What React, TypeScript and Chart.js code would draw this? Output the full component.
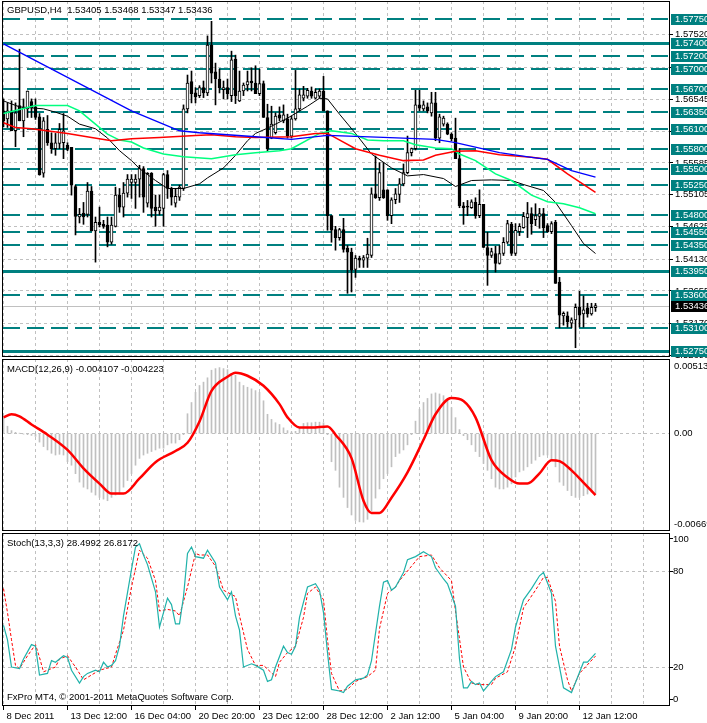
import React, { useEffect, useRef } from 'react';
import { Chart, registerables } from 'chart.js';

Chart.register(...registerables);

// ---------- DATA (GBPUSD H4) ----------
const dateLabels = ['8 Dec 2011', '13 Dec 12:00', '16 Dec 04:00', '20 Dec 20:00', '23 Dec 12:00', '28 Dec 12:00', '2 Jan 12:00', '5 Jan 04:00', '9 Jan 20:00', '12 Jan 12:00'];

const opens = [1.5637,1.5625,1.5637,1.5607,1.5645,1.5622,1.5640,1.5651,1.5643,1.5628,1.5543,1.5609,1.5589,1.5580,1.5588,1.5589,1.5585,1.5582,1.5523,1.5477,1.5483,1.5481,1.5516,1.5456,1.5469,1.5466,1.5465,1.5439,1.5463,1.5510,1.5492,1.5513,1.5529,1.5529,1.5534,1.5550,1.5498,1.5543,1.5492,1.5486,1.5490,1.5541,1.5520,1.5498,1.5507,1.5520,1.5640,1.5681,1.5664,1.5660,1.5672,1.5664,1.5736,1.5696,1.5685,1.5669,1.5672,1.5660,1.5715,1.5652,1.5667,1.5676,1.5682,1.5679,1.5663,1.5678,1.5627,1.5596,1.5604,1.5631,1.5622,1.5625,1.5599,1.5625,1.5640,1.5656,1.5659,1.5667,1.5656,1.5659,1.5667,1.5637,1.5479,1.5458,1.5446,1.5458,1.5430,1.5424,1.5398,1.5415,1.5412,1.5415,1.5419,1.5512,1.5506,1.5518,1.5518,1.5479,1.5503,1.5511,1.5527,1.5544,1.5574,1.5580,1.5646,1.5640,1.5643,1.5634,1.5649,1.5596,1.5617,1.5617,1.5602,1.5596,1.5565,1.5494,1.5493,1.5491,1.5499,1.5479,1.5496,1.5431,1.5419,1.5422,1.5407,1.5422,1.5439,1.5466,1.5422,1.5455,1.5461,1.5476,1.5482,1.5473,1.5478,1.5482,1.5464,1.5455,1.5469,1.5379,1.5328,1.5328,1.5317,1.5322,1.5341,1.5331,1.5340,1.5331,1.53405];
const highs = [1.5655,1.5649,1.5652,1.5649,1.5730,1.5655,1.5667,1.5655,1.5655,1.5633,1.5627,1.5630,1.5604,1.5603,1.5618,1.5633,1.5589,1.5582,1.5525,1.5490,1.5499,1.5529,1.5523,1.5477,1.5492,1.5472,1.5477,1.5477,1.5522,1.5520,1.5529,1.5541,1.5541,1.5541,1.5555,1.5553,1.5544,1.5544,1.5510,1.5510,1.5543,1.5547,1.5522,1.5520,1.5525,1.5646,1.5691,1.5697,1.5672,1.5675,1.5682,1.5750,1.5772,1.5709,1.5700,1.5682,1.5685,1.5727,1.5721,1.5697,1.5679,1.5697,1.5702,1.5705,1.5700,1.5682,1.5647,1.5644,1.5634,1.5643,1.5646,1.5632,1.5629,1.5698,1.5670,1.5674,1.5671,1.5673,1.5670,1.5670,1.5689,1.5637,1.5479,1.5463,1.5460,1.5475,1.5434,1.5430,1.5419,1.5418,1.5419,1.5445,1.5521,1.5569,1.5559,1.5559,1.5518,1.5506,1.5520,1.5535,1.5557,1.5599,1.5581,1.5668,1.5668,1.5652,1.5649,1.5665,1.5665,1.5632,1.5629,1.5619,1.5604,1.5626,1.5580,1.5499,1.5502,1.5503,1.5506,1.5518,1.5496,1.5454,1.5430,1.5433,1.5434,1.5446,1.5472,1.5469,1.5467,1.5467,1.5484,1.5499,1.5491,1.5497,1.5490,1.5490,1.5467,1.5470,1.5472,1.5386,1.5334,1.5334,1.5325,1.5346,1.5365,1.5358,1.5347,1.5347,1.53468];
const lows = [1.5613,1.5612,1.5607,1.5583,1.5622,1.5598,1.5627,1.5627,1.5624,1.5540,1.5537,1.5585,1.5573,1.5570,1.5580,1.5565,1.5577,1.5510,1.5450,1.5468,1.5466,1.5477,1.5456,1.5409,1.5462,1.5460,1.5432,1.5436,1.5462,1.5484,1.5477,1.5507,1.5505,1.5490,1.5507,1.5484,1.5492,1.5477,1.5463,1.5480,1.5463,1.5505,1.5495,1.5492,1.5502,1.5517,1.5634,1.5649,1.5649,1.5657,1.5657,1.5660,1.5679,1.5646,1.5664,1.5655,1.5655,1.5651,1.5648,1.5651,1.5660,1.5667,1.5667,1.5663,1.5660,1.5627,1.5577,1.5595,1.5602,1.5622,1.5619,1.5596,1.5596,1.5623,1.5637,1.5652,1.5656,1.5656,1.5655,1.5656,1.5637,1.5457,1.5439,1.5427,1.5442,1.5424,1.5362,1.5364,1.5386,1.5401,1.5401,1.5401,1.5416,1.5505,1.5502,1.5505,1.5472,1.5467,1.5497,1.5499,1.5524,1.5542,1.5569,1.5578,1.5637,1.5637,1.5634,1.5629,1.5592,1.5589,1.5614,1.5601,1.5592,1.5565,1.5491,1.5466,1.5479,1.5490,1.5475,1.5476,1.5431,1.5374,1.5416,1.5394,1.5406,1.5419,1.5437,1.5419,1.5419,1.5449,1.5460,1.5446,1.5451,1.5464,1.5460,1.5446,1.5454,1.5452,1.5377,1.5310,1.5314,1.5311,1.5310,1.5280,1.5311,1.5311,1.5326,1.5329,1.53347];
const closes = [1.5622,1.5637,1.5607,1.5634,1.5622,1.5642,1.5667,1.5642,1.5627,1.5541,1.5622,1.5589,1.5580,1.5589,1.5609,1.5607,1.5579,1.5525,1.5478,1.5481,1.5477,1.5516,1.5456,1.5469,1.5465,1.5463,1.5439,1.5465,1.5510,1.5492,1.5513,1.5534,1.5534,1.5534,1.5550,1.5507,1.5543,1.5490,1.5486,1.5492,1.5541,1.5520,1.5507,1.5508,1.5522,1.5640,1.5679,1.5663,1.5658,1.5672,1.5664,1.5736,1.5694,1.5685,1.5672,1.5672,1.5663,1.5714,1.5660,1.5667,1.5676,1.5681,1.5679,1.5663,1.5678,1.5627,1.5580,1.5617,1.5629,1.5626,1.5631,1.5599,1.5625,1.5640,1.5661,1.5661,1.5668,1.5659,1.5665,1.5667,1.5637,1.5479,1.5457,1.5446,1.5458,1.5428,1.5424,1.5397,1.5415,1.5412,1.5416,1.5421,1.5512,1.5506,1.5544,1.5506,1.5479,1.5503,1.5512,1.5527,1.5544,1.5574,1.5580,1.5646,1.5641,1.5646,1.5637,1.5649,1.5596,1.5628,1.5626,1.5602,1.5595,1.5565,1.5494,1.5491,1.5492,1.5500,1.5479,1.5496,1.5431,1.5419,1.5425,1.5407,1.5422,1.5439,1.5467,1.5422,1.5457,1.5463,1.5478,1.5482,1.5467,1.5479,1.5482,1.5461,1.5455,1.5467,1.5377,1.5329,1.5332,1.5319,1.5322,1.5341,1.5329,1.5337,1.5331,1.5341,1.53436];

// horizontal support / resistance levels
const levelDashed = [1.5775, 1.5720, 1.5700, 1.5670, 1.5635, 1.5610, 1.5580, 1.5550, 1.5525, 1.5480, 1.5455, 1.5435, 1.5360, 1.5310];
const levelSolid = [1.5740, 1.5395, 1.5275];
// price grid / axis ticks
const priceTicks = [1.5752, 1.5703, 1.56545, 1.5606, 1.55585, 1.55105, 1.54625, 1.5413, 1.53655, 1.5317, 1.5269];

// moving averages: [bar index, price]
const maBlue = [[0,1.5738],[32,1.5637],[44,1.5607],[49,1.5604],[63,1.5598],[72,1.5594],[81,1.5600],[95,1.5597],[108,1.5594],[113,1.5589],[124,1.5574],[132,1.5567],[136,1.5564],[142,1.5547],[148,1.5537]];
const maRed = [[0,1.5619],[3,1.5612],[7,1.5610],[16,1.5603],[22,1.5597],[27,1.5592],[32,1.5595],[39,1.5597],[48,1.5600],[52,1.5601],[58,1.5598],[63,1.5597],[72,1.5598],[78,1.5603],[81,1.5603],[88,1.5580],[94,1.5570],[100,1.5562],[105,1.5563],[108,1.5570],[113,1.5576],[118,1.5577],[124,1.5571],[132,1.5567],[136,1.5564],[141,1.5542],[148,1.5514]];
const maGreen = [[0,1.5633],[8,1.5645],[16,1.5645],[19,1.5637],[22,1.5622],[26,1.5602],[29,1.5593],[32,1.5590],[35,1.5581],[40,1.5572],[45,1.5568],[52,1.5565],[58,1.5571],[63,1.5574],[69,1.5577],[72,1.5580],[79,1.5603],[82,1.5607],[87,1.5603],[91,1.5593],[95,1.5592],[100,1.5592],[103,1.5586],[108,1.5581],[112,1.5580],[114,1.5572],[118,1.5562],[123,1.5542],[127,1.5532],[132,1.5510],[136,1.5500],[140,1.5497],[144,1.5491],[148,1.5482]];
const maBlack = [[0,1.5652],[4,1.5643],[10,1.5640],[13,1.5635],[16,1.5629],[19,1.5617],[23,1.5610],[26,1.5596],[29,1.5577],[32,1.5562],[34,1.5550],[38,1.5532],[41,1.5520],[45,1.5520],[49,1.5527],[51,1.5536],[55,1.5551],[58,1.5570],[61,1.5592],[63,1.5603],[66,1.5611],[71,1.5626],[76,1.5644],[79,1.5656],[81,1.5655],[84,1.5632],[88,1.5603],[92,1.5572],[97,1.5551],[101,1.5539],[105,1.5541],[110,1.5535],[113,1.5523],[117,1.5532],[122,1.5533],[127,1.5532],[130,1.5526],[135,1.5517],[138,1.5499],[142,1.5464],[145,1.5437],[148,1.5422]];

// MACD(12,26,9)
const macdHist = [0.0011,0.00051,0.00021,0.00009,0.00002,-0.00002,-0.00007,-0.00012,-0.00019,-0.00058,-0.00089,-0.00112,-0.00135,-0.00147,-0.00142,-0.00147,-0.00193,-0.00217,-0.00275,-0.00333,-0.00368,-0.0038,-0.00403,-0.00422,-0.00438,-0.0045,-0.00461,-0.00438,-0.00422,-0.00415,-0.00368,-0.00322,-0.00275,-0.00217,-0.0017,-0.00147,-0.00135,-0.00123,-0.00112,-0.001,-0.001,-0.00077,-0.00065,-0.00065,-0.00042,-0.00007,0.00137,0.00214,0.00284,0.00331,0.00354,0.00384,0.00436,0.00447,0.00454,0.00447,0.0044,0.00412,0.00401,0.00354,0.00331,0.00319,0.00308,0.00296,0.00284,0.00226,0.00133,0.00098,0.00075,0.00063,0.0004,0.00021,0.00012,0.00016,0.0004,0.0007,0.00075,0.00075,0.00079,0.00079,0.00075,-0.00007,-0.00193,-0.00252,-0.00368,-0.00438,-0.00508,-0.00559,-0.00596,-0.00606,-0.00608,-0.00589,-0.00531,-0.00443,-0.0038,-0.0031,-0.00275,-0.00228,-0.00158,-0.00135,-0.00112,-0.00077,-0.00007,0.00086,0.00168,0.00214,0.00242,0.00273,0.0028,0.00273,0.00261,0.00226,0.00179,0.0011,0.00028,-0.00014,-0.00042,-0.00077,-0.00123,-0.00158,-0.00205,-0.00252,-0.0031,-0.00368,-0.0038,-0.0038,-0.00368,-0.00345,-0.00298,-0.00263,-0.00252,-0.00228,-0.00205,-0.00182,-0.00158,-0.00147,-0.00147,-0.00182,-0.00228,-0.00333,-0.00356,-0.00391,-0.00426,-0.00438,-0.00438,-0.00426,-0.00415,-0.00403,-0.004107];
const macdSignal = [[0,0.00112],[2,0.00133],[4,0.00119],[7,0.00063],[11,-0.00007],[16,-0.00112],[20,-0.00238],[24,-0.00343],[27,-0.00412],[30,-0.00412],[34,-0.00308],[38,-0.00196],[43,-0.00119],[46,-0.00063],[49,0.00084],[52,0.00294],[56,0.00391],[58,0.00419],[61,0.00398],[65,0.00329],[69,0.00203],[71,0.00112],[74,0.00042],[77,0.00042],[81,0.00049],[83,-0.00007],[87,-0.00168],[90,-0.00461],[92,-0.00545],[94,-0.00545],[97,-0.0044],[101,-0.00266],[105,-0.00042],[108,0.00133],[112,0.00245],[115,0.00224],[118,0.00112],[122,-0.00182],[126,-0.00301],[129,-0.00343],[131,-0.00343],[134,-0.00273],[137,-0.00182],[139,-0.00189],[142,-0.00252],[145,-0.00336],[148,-0.004223]];
const macdAxis = [0.00513, 0, -0.00669];

// Stochastic(13,3,3)
const stochK = [[0,46],[1,37],[2,20],[4,19],[5,25],[7,34],[8,33],[9,15],[11,16],[12,24],[13,23],[15,27],[16,26],[17,18],[19,10],[20,14],[21,16],[23,18],[24,17],[25,23],[26,20],[27,21],[28,24],[29,33],[30,52],[32,81],[33,95],[34,97],[35,90],[36,84],[38,67],[39,45],[40,54],[41,63],[42,59],[43,47],[44,47],[45,64],[46,91],[47,95],[48,89],[50,88],[51,93],[53,85],[54,70],[56,62],[57,67],[58,52],[59,43],[60,20],[62,22],[63,21],[65,18],[66,11],[67,12],[68,20],[70,33],[71,29],[72,28],[73,33],[74,51],[76,70],[78,72],[79,68],[80,54],[81,29],[82,6],[84,5],[85,4],[86,8],[88,12],[90,13],[91,15],[92,24],[94,58],[95,73],[96,74],[97,68],[98,70],[100,79],[101,87],[103,89],[105,92],[107,89],[108,82],[110,75],[111,72],[113,58],[114,25],[115,7],[116,7],[117,11],[118,9],[119,10],[120,5],[122,11],[123,14],[125,17],[127,31],[128,45],[130,62],[132,69],[134,77],[135,79],[137,66],[138,33],[140,7],[142,4],[145,23],[146,23],[148,28.4992]];
const stochD = [[0,69],[1,54],[2,37],[3,21],[4,19],[6,27],[8,34],[9,26],[10,17],[13,20],[14,25],[16,27],[18,20],[20,12],[22,15],[24,18],[27,20],[28,28],[30,43],[32,70],[34,93],[36,88],[38,74],[39,55],[41,56],[43,55],[44,52],[46,70],[48,91],[49,90],[51,90],[53,83],[55,68],[58,64],[59,52],[61,31],[63,21],[65,21],[68,14],[69,23],[71,29],[73,33],[75,51],[76,66],[78,70],[80,62],[81,37],[82,16],[84,5],[86,6],[88,11],[91,14],[93,18],[94,44],[96,66],[98,70],[99,74],[102,83],[104,89],[107,90],[109,82],[112,74],[113,55],[115,20],[117,10],[119,9],[122,9],[123,13],[126,17],[128,33],[130,57],[133,68],[135,76],[136,76],[138,61],[139,33],[141,12],[142,5],[144,16],[148,26.8172]];
const stochTicks = [0, 20, 80, 100];

// ---------- STYLE / LAYOUT ----------
const FONT_FAMILY = "'Liberation Sans', Arial, sans-serif";
const FONT_SIZE = 9.5;
const FONT = `${FONT_SIZE}px ${FONT_FAMILY}`;
const TEAL = '#008080';
const GRID = '#c0c0c0';
const X_MIN = -0.375;
const X_MAX = 166.625;
const AXIS_W = 37;
const CLEAR = 'rgba(0,0,0,0)';

Chart.defaults.font.family = FONT_FAMILY;
Chart.defaults.font.size = FONT_SIZE;
Chart.defaults.color = '#000';

const gridIdx: number[] = [];
for (let v = 0; v <= 160; v += 8) gridIdx.push(v);

function noPad(s: any) {
  s.paddingTop = 0; s.paddingBottom = 0; s.paddingLeft = 0; s.paddingRight = 0;
}

function xScale(showLabels: boolean): any {
  return {
    type: 'linear',
    min: X_MIN,
    max: X_MAX,
    offset: false,
    afterBuildTicks: (s: any) => { s.ticks = gridIdx.map((v) => ({ value: v })); },
    afterFit: (s: any) => { s.height = showLabels ? 17 : 0; noPad(s); },
    grid: {
      color: GRID, lineWidth: 1, offset: false, drawOnChartArea: true,
      drawTicks: showLabels, tickLength: 4, tickWidth: 1,
      tickColor: (c: any) => (c.tick && c.tick.value % 16 === 0 && c.tick.value / 16 < dateLabels.length ? '#000' : CLEAR),
    },
    border: { display: false, dash: [3, 3] },
    ticks: {
      display: showLabels, autoSkip: false, maxRotation: 0, minRotation: 0,
      align: 'start', labelOffset: 3, padding: 1, color: '#000',
      font: { family: FONT_FAMILY, size: FONT_SIZE },
      callback: (v: number) => (v % 16 === 0 && dateLabels[v / 16] ? dateLabels[v / 16] : ''),
    },
  };
}

function lineDs(pts: number[][], color: string, width: number, extra: any = {}): any {
  return {
    type: 'line',
    data: pts.map(([x, y]) => ({ x, y })),
    borderColor: color,
    borderWidth: width,
    pointRadius: 0,
    fill: false,
    tension: 0,
    ...extra,
  };
}

function drawFrame(chart: any) {
  const { ctx, chartArea: a } = chart;
  ctx.save();
  ctx.strokeStyle = '#000';
  ctx.lineWidth = 1;
  ctx.setLineDash([]);
  ctx.strokeRect(a.left + 0.5, a.top + 0.5, a.right - a.left - 1, a.bottom - a.top - 1);
  ctx.restore();
}

function drawText(ctx: any, s: string, x: number, y: number, color = '#000') {
  ctx.font = FONT;
  ctx.textBaseline = 'middle';
  ctx.textAlign = 'left';
  ctx.fillStyle = color;
  ctx.fillText(s, x, y);
}

const baseOptions = (padding: any) => ({
  responsive: false,
  animation: false,
  devicePixelRatio: 1,
  events: [],
  layout: { padding },
  plugins: { legend: { display: false }, tooltip: { enabled: false } },
});

function mainConfig(): any {
  const n = closes.length;
  const last = closes[n - 1];
  const bodies = opens.map((o, i) => ({ x: i, y: [o, closes[i]] }));
  const wicks = highs.map((h, i) => ({ x: i, y: [lows[i], h] }));
  const bodyColors = opens.map((o, i) => (closes[i] >= o ? '#ffffff' : '#000000'));

  const deco = {
    id: 'mainDeco',
    beforeDatasetsDraw(chart: any) {
      const { ctx, chartArea: a, scales } = chart;
      const y = scales.y;
      ctx.save();
      ctx.beginPath();
      ctx.rect(a.left, a.top, a.right - a.left, a.bottom - a.top);
      ctx.clip();
      const py0 = Math.round(y.getPixelForValue(last)) + 0.5;
      ctx.strokeStyle = GRID;
      ctx.lineWidth = 1;
      ctx.beginPath(); ctx.moveTo(a.left, py0); ctx.lineTo(a.right, py0); ctx.stroke();
      ctx.strokeStyle = TEAL;
      ctx.lineWidth = 2;
      ctx.setLineDash([17, 7]);
      for (const v of levelDashed) {
        const py = Math.round(y.getPixelForValue(v));
        ctx.beginPath(); ctx.moveTo(a.left + 1, py); ctx.lineTo(a.right, py); ctx.stroke();
      }
      ctx.setLineDash([]);
      ctx.lineWidth = 3;
      for (const v of levelSolid) {
        const py = Math.round(y.getPixelForValue(v)) + 0.5;
        ctx.beginPath(); ctx.moveTo(a.left, py); ctx.lineTo(a.right, py); ctx.stroke();
      }
      ctx.restore();
    },
    afterDraw(chart: any) {
      drawFrame(chart);
      const { ctx, chartArea: a, scales } = chart;
      const y = scales.y;
      ctx.save();
      const boxes = [...levelDashed, ...levelSolid].map((v) => ({ v, bg: TEAL }));
      boxes.push({ v: last, bg: '#000' });
      for (const b of boxes) {
        const py = Math.round(y.getPixelForValue(b.v));
        ctx.fillStyle = b.bg;
        ctx.fillRect(a.right + 1, py - 5, chart.width - a.right - 1, 11);
        drawText(ctx, b.v.toFixed(5), a.right + 5, py + 0.5, '#fff');
      }
      const title = `GBPUSD,H4  ${opens[n - 1].toFixed(5)} ${highs[n - 1].toFixed(5)} ${lows[n - 1].toFixed(5)} ${closes[n - 1].toFixed(5)}`;
      drawText(ctx, title, 7, a.top + 9.5);
      ctx.restore();
    },
  };

  return {
    type: 'bar',
    data: {
      datasets: [
        lineDs(maBlue, '#0000ff', 1.3),
        lineDs(maRed, '#ff0000', 1.5),
        lineDs(maGreen, '#00ff7f', 1.5),
        lineDs(maBlack, '#000000', 1),
        {
          type: 'bar', data: bodies, backgroundColor: bodyColors, borderColor: '#000000',
          borderWidth: 1, borderSkipped: false, barThickness: 3, minBarLength: 1, grouped: false,
        },
        { type: 'bar', data: wicks, backgroundColor: '#000000', borderWidth: 0, barThickness: 1, grouped: false },
      ],
    },
    options: {
      ...baseOptions({ left: 2, top: 1, right: 0, bottom: 1 }),
      scales: {
        x: xScale(false),
        y: {
          type: 'linear', position: 'right', min: 1.5266, max: 1.58026,
          afterBuildTicks: (s: any) => { s.ticks = priceTicks.map((v) => ({ value: v })); },
          afterFit: (s: any) => { s.width = AXIS_W; noPad(s); },
          grid: { color: GRID, lineWidth: 1, drawTicks: true, tickLength: 3, tickColor: '#000', tickWidth: 1 },
          border: { display: false, dash: [3, 3] },
          ticks: { autoSkip: false, padding: 2, color: '#000', callback: (v: number) => Number(v).toFixed(5) },
        },
      },
    },
    plugins: [deco],
  };
}

function macdConfig(): any {
  const n = macdHist.length;
  const deco = {
    id: 'macdDeco',
    afterDraw(chart: any) {
      drawFrame(chart);
      const { ctx, chartArea: a, scales } = chart;
      const y = scales.y;
      ctx.save();
      for (const v of macdAxis) {
        let py = y.getPixelForValue(v);
        py = Math.min(Math.max(py, a.top + 7), a.bottom - 7);
        drawText(ctx, v === 0 ? '0.00' : v.toFixed(5), a.right + 4, py);
      }
      const sig = macdSignal[macdSignal.length - 1][1];
      drawText(ctx, `MACD(12,26,9) ${macdHist[n - 1].toFixed(6)} ${sig.toFixed(6)}`, 7, a.top + 10);
      ctx.restore();
    },
  };
  return {
    type: 'bar',
    data: {
      datasets: [
        lineDs(macdSignal, '#ff0000', 2.5, { cubicInterpolationMode: 'monotone' }),
        {
          type: 'bar', data: macdHist.map((v, i) => ({ x: i, y: v })), backgroundColor: GRID,
          borderWidth: 0, barThickness: 1, grouped: false,
        },
      ],
    },
    options: {
      ...baseOptions({ left: 2, top: 2, right: 0, bottom: 1 }),
      scales: {
        x: xScale(false),
        y: {
          type: 'linear', position: 'right', min: macdAxis[2], max: macdAxis[0],
          afterBuildTicks: (s: any) => { s.ticks = [{ value: 0 }]; },
          afterFit: (s: any) => { s.width = AXIS_W; noPad(s); },
          grid: { color: GRID, lineWidth: 1, drawTicks: false },
          border: { display: false, dash: [3, 3] },
          ticks: { display: false },
        },
      },
    },
    plugins: [deco],
  };
}

function stochConfig(): any {
  const deco = {
    id: 'stochDeco',
    afterDraw(chart: any) {
      drawFrame(chart);
      const { ctx, chartArea: a } = chart;
      ctx.save();
      const k = stochK[stochK.length - 1][1];
      const d = stochD[stochD.length - 1][1];
      drawText(ctx, `Stoch(13,3,3) ${k.toFixed(4)} ${d.toFixed(4)}`, 7, a.top + 10);
      drawText(ctx, 'FxPro MT4, \u00a9 2001-2011 MetaQuotes Software Corp.', 7, a.bottom - 8.5);
      ctx.restore();
    },
  };
  return {
    type: 'line',
    data: {
      datasets: [
        lineDs(stochK, '#20b2aa', 1.2),
        lineDs(stochD, '#ff0000', 1, { borderDash: [3, 2] }),
      ],
    },
    options: {
      ...baseOptions({ left: 2, top: 1, right: 0, bottom: 0 }),
      scales: {
        x: xScale(true),
        y: {
          type: 'linear', position: 'right', min: -4.375, max: 103.75,
          afterBuildTicks: (s: any) => { s.ticks = stochTicks.map((v) => ({ value: v })); },
          afterFit: (s: any) => { s.width = AXIS_W; noPad(s); },
          grid: {
            color: (c: any) => (c.tick && (c.tick.value === 20 || c.tick.value === 80) ? GRID : CLEAR),
            lineWidth: 1, drawTicks: true, tickLength: 3, tickColor: '#000', tickWidth: 1,
          },
          border: { display: false, dash: [3, 3] },
          ticks: { autoSkip: false, padding: 0, color: '#000', callback: (v: number) => String(v) },
        },
      },
    },
    plugins: [deco],
  };
}

export default function App() {
  const r1 = useRef<HTMLCanvasElement>(null);
  const r2 = useRef<HTMLCanvasElement>(null);
  const r3 = useRef<HTMLCanvasElement>(null);

  useEffect(() => {
    document.body.style.margin = '0';
    const c1 = new Chart(r1.current as HTMLCanvasElement, mainConfig());
    const c2 = new Chart(r2.current as HTMLCanvasElement, macdConfig());
    const c3 = new Chart(r3.current as HTMLCanvasElement, stochConfig());
    return () => { c1.destroy(); c2.destroy(); c3.destroy(); };
  }, []);

  return (
    <div style={{ position: 'relative', width: 707, height: 723, background: '#fff', overflow: 'hidden' }}>
      <canvas ref={r1} width={707} height={358} style={{ position: 'absolute', left: 0, top: 0, width: 707, height: 358 }} />
      <canvas ref={r2} width={707} height={175} style={{ position: 'absolute', left: 0, top: 357, width: 707, height: 175 }} />
      <canvas ref={r3} width={707} height={191} style={{ position: 'absolute', left: 0, top: 532, width: 707, height: 191 }} />
    </div>
  );
}
